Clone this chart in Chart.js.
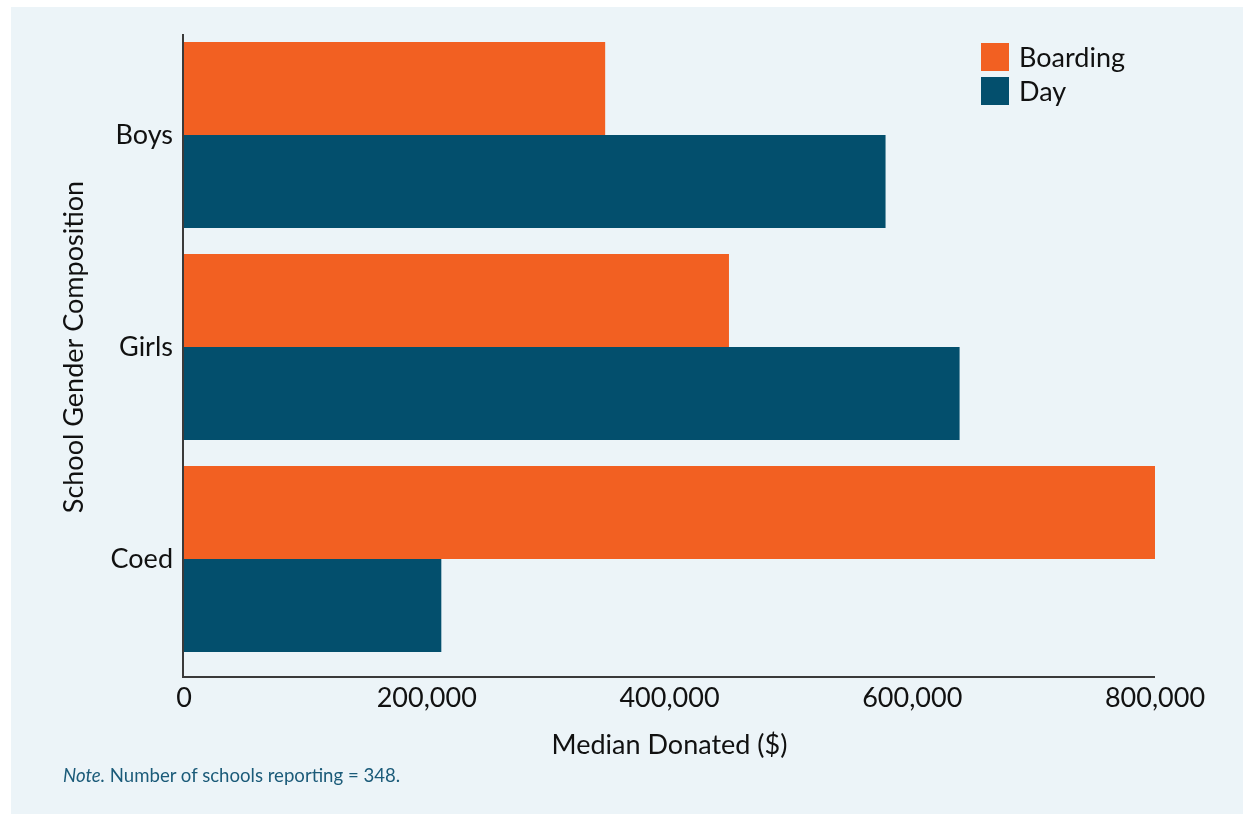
<!DOCTYPE html>
<html>
<head>
<meta charset="utf-8">
<script src="https://cdn.jsdelivr.net/npm/chart.js@4.4.0/dist/chart.umd.min.js"></script>
<style>
  body { margin: 0; background: #ffffff; font-family: Lato, sans-serif; }
  #wrap { position: relative; width: 1254px; height: 821px; }
  #panel { position: absolute; left: 11px; top: 7px; width: 1232px; height: 807px; background: #ecf4f8; }
  #chart { position: absolute; left: 0; top: 0; }
  #note { position: absolute; left: 63px; top: 764px; font-size: 18.6px; color: #1b5b79; }
</style>
</head>
<body>
<div id="wrap">
  <div id="panel"></div>
  <canvas id="chart" width="1254" height="821"></canvas>
  <div id="note"><i>Note.</i> Number of schools reporting = 348.</div>
</div>
<script>
// data
const categories = ['Boys', 'Girls', 'Coed'];
const boarding = [347000, 449000, 800000];
const day = [578000, 639000, 212000];
const xTicks = [0, 200000, 400000, 600000, 800000];

const orange = '#f26022';
const navy = '#034f6d';
const axisColor = '#3a3a3a';
const textColor = '#111111';
const fontSize = 27;

// axis lines drawn a bit past the plot area, like the original
const axisLines = {
  id: 'axisLines',
  afterDatasetsDraw(chart) {
    const { ctx, chartArea } = chart;
    const x0 = chart.scales.x.getPixelForValue(0) - 1;
    ctx.save();
    ctx.strokeStyle = axisColor;
    ctx.lineWidth = 2;
    ctx.beginPath();
    ctx.moveTo(x0, chartArea.top + 5);
    ctx.lineTo(x0, chartArea.bottom + 12);
    ctx.lineTo(chartArea.right, chartArea.bottom + 12);
    ctx.stroke();
    ctx.restore();
  }
};

// legend in the top right corner of the plot
const boxLegend = {
  id: 'boxLegend',
  afterDraw(chart) {
    const { ctx, chartArea } = chart;
    ctx.save();
    ctx.font = fontSize + 'px Lato';
    ctx.textBaseline = 'middle';
    ctx.textAlign = 'left';
    chart.data.datasets.forEach(function (ds, i) {
      const x = chartArea.right - 174;
      const y = chartArea.top + 14 + i * 34;
      ctx.fillStyle = ds.backgroundColor;
      ctx.fillRect(x, y, 28, 28);
      ctx.fillStyle = textColor;
      ctx.fillText(ds.label, x + 38, y + 15);
    });
    ctx.restore();
  }
};

new Chart(document.getElementById('chart'), {
  type: 'bar',
  data: {
    labels: categories,
    datasets: [
      { label: 'Boarding', data: boarding, backgroundColor: orange },
      { label: 'Day', data: day, backgroundColor: navy }
    ]
  },
  plugins: [axisLines, boxLegend],
  options: {
    indexAxis: 'y',
    responsive: false,
    animation: false,
    layout: { padding: { top: 29, right: 99, left: 0, bottom: 0 } },
    datasets: { bar: { categoryPercentage: 0.877, barPercentage: 1.0 } },
    plugins: { legend: { display: false }, tooltip: { enabled: false } },
    scales: {
      x: {
        min: 0,
        max: 800000,
        afterBuildTicks: function (scale) {
          scale.ticks = xTicks.map(v => ({ value: v }));
        },
        afterFit: function (scale) { scale.height = 156; },
        grid: { display: false, drawTicks: false },
        border: { display: false },
        ticks: {
          padding: 17,
          color: textColor,
          font: { family: 'Lato', size: fontSize },
          callback: v => v.toLocaleString('en-US')
        },
        title: {
          display: true,
          text: 'Median Donated ($)',
          color: textColor,
          font: { family: 'Lato', size: fontSize },
          padding: { top: 0, bottom: 60 }
        }
      },
      y: {
        afterFit: function (scale) { scale.width = 184; },
        grid: { display: false, drawTicks: false },
        border: { display: false },
        ticks: {
          padding: 11,
          color: textColor,
          font: { family: 'Lato', size: fontSize }
        },
        title: {
          display: true,
          text: 'School Gender Composition',
          color: textColor,
          font: { family: 'Lato', size: fontSize },
          padding: { top: 58, bottom: 0 }
        }
      }
    }
  }
});
</script>
</body>
</html>
